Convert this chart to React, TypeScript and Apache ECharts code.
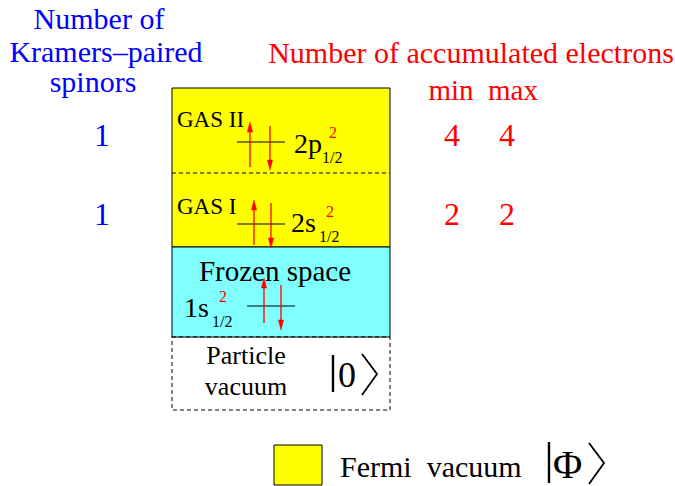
import React, { useEffect, useRef } from "react";
import * as echarts from "echarts";

// ---- data ----
const spaceLabels = ["GAS II", "GAS I", "Frozen space"];
const orbitalNames = ["2p", "2s", "1s"];
const orbitalOccupancy = ["2", "2", "2"];
const orbitalJ = ["1/2", "1/2", "1/2"];
const kramersPaired = [1, 1];
const minElectrons = [4, 2];
const maxElectrons = [4, 2];
const leftTitle = ["Number of", "Kramers\u2013paired", "spinors"];
const rightTitle = "Number of accumulated electrons";
const rightSubTitle = ["min", "max"];
const vacuumLabel = ["Particle", "vacuum"];
const vacuumKet = "0";
const legendLabel = "Fermi  vacuum";
const legendKet = "\u03A6";

const FONT = "'Liberation Serif', 'Times New Roman', serif";
const RED = "#ff0000";
const BLUE = "#0000ff";

// layout per row (positions only)
const rowLayout = [
  { labelX: 177, labelY: 119, labelSize: 23, labelAlign: "left", lineY: 142, lineX: [237, 285], up: [250, 167, 122], down: [270, 126, 170], orbX: 294, orbY: 143 },
  { labelX: 177, labelY: 206, labelSize: 23, labelAlign: "left", lineY: 224, lineX: [237, 285], up: [254, 245, 200], down: [271, 203, 248], orbX: 291, orbY: 222 },
  { labelX: 275, labelY: 271, labelSize: 29, labelAlign: "center", lineY: 306, lineX: [247, 295], up: [264, 323, 278], down: [281, 285, 330], orbX: 184, orbY: 307 },
];
const numberRowsY = [135, 214];

function text(x: number, y: number, s: string, size: number, color: string, align = "center", extra: any = {}, el: any = {}) {
  return {
    type: "text",
    x,
    y,
    ...el,
    style: { text: s, fontSize: size, fontFamily: FONT, fill: color, align, verticalAlign: "middle", ...extra },
  };
}

function arrow(x: number, y0: number, y1: number) {
  const dir = y1 > y0 ? 1 : -1;
  const headLen = 10;
  const headW = 2.6;
  return [
    { type: "line", shape: { x1: x, y1: y0, x2: x, y2: y1 - dir * headLen * 0.6 }, style: { stroke: RED, lineWidth: 1.3 } },
    {
      type: "polygon",
      shape: { points: [[x, y1], [x - headW, y1 - dir * headLen], [x + headW, y1 - dir * headLen]] },
      style: { fill: RED, stroke: RED, lineWidth: 0.5 },
    },
  ];
}

export default function App() {
  const ref = useRef<HTMLDivElement>(null);
  useEffect(() => {
    const chart = echarts.init(ref.current!, null, { renderer: "svg" });
    const g: any[] = [];

    // boxes
    g.push({ type: "rect", shape: { x: 172, y: 88, width: 218, height: 159 }, style: { fill: "#ffff00", stroke: "#000", lineWidth: 1 } });
    g.push({ type: "rect", shape: { x: 172, y: 247, width: 218, height: 90 }, style: { fill: "#80ffff", stroke: "#000", lineWidth: 1 } });
    g.push({ type: "rect", shape: { x: 172, y: 337, width: 218, height: 73 }, style: { fill: "none", stroke: "#000", lineWidth: 1, lineDash: [4, 3] } });
    g.push({ type: "line", shape: { x1: 172, y1: 173, x2: 390, y2: 173 }, style: { stroke: "#000", lineWidth: 1, lineDash: [4, 3] } });

    // rows
    spaceLabels.forEach((lab, i) => {
      const L = rowLayout[i];
      g.push(text(L.labelX, L.labelY, lab, L.labelSize, "#000", L.labelAlign));
      g.push({ type: "line", shape: { x1: L.lineX[0], y1: L.lineY, x2: L.lineX[1], y2: L.lineY }, style: { stroke: "#000", lineWidth: 1 } });
      g.push(...arrow(L.up[0], L.up[1], L.up[2]));
      g.push(...arrow(L.down[0], L.down[1], L.down[2]));
      g.push(text(L.orbX, L.orbY, orbitalNames[i], 28, "#000", "left"));
      g.push(text(L.orbX + 35, L.orbY - 11, orbitalOccupancy[i], 16, RED, "left"));
      g.push(text(L.orbX + 28, L.orbY + 14, orbitalJ[i], 16, "#000", "left"));
    });

    // particle vacuum
    g.push(text(246, 355, vacuumLabel[0], 26, "#000"));
    g.push(text(246, 386, vacuumLabel[1], 26, "#000"));
    g.push({ type: "line", shape: { x1: 333, y1: 355, x2: 333, y2: 392 }, style: { stroke: "#000", lineWidth: 2.4 } });
    g.push(text(338, 375, vacuumKet, 36, "#000", "left"));
    g.push({ type: "polyline", shape: { points: [[362, 354], [377, 374], [362, 395]] }, style: { stroke: "#000", lineWidth: 1.8, fill: "none" } });

    // left titles
    const leftX = [99, 106, 93];
    const leftY = [18, 51, 81];
    leftTitle.forEach((s, i) => g.push(text(leftX[i], leftY[i], s, 30, BLUE)));
    kramersPaired.forEach((v, i) => g.push(text(102, numberRowsY[i], String(v), 32, BLUE)));

    // right titles
    g.push(text(471, 52, rightTitle, 30, RED));
    const colX = [451, 513];
    rightSubTitle.forEach((s, i) => g.push(text(colX[i], 90, s, 29, RED)));
    const numX = [452, 507];
    minElectrons.forEach((v, i) => g.push(text(numX[0], numberRowsY[i], String(v), 32, RED)));
    maxElectrons.forEach((v, i) => g.push(text(numX[1], numberRowsY[i], String(v), 32, RED)));

    // legend
    g.push({ type: "rect", shape: { x: 274, y: 445, width: 48, height: 40 }, style: { fill: "#ffff00", stroke: "#000", lineWidth: 1 } });
    g.push(text(340, 466, legendLabel, 30, "#000", "left"));
    g.push({ type: "line", shape: { x1: 549, y1: 442, x2: 549, y2: 483 }, style: { stroke: "#000", lineWidth: 2.4 } });
    g.push(text(553, 464, legendKet, 40, "#000", "left"));
    g.push({ type: "polyline", shape: { points: [[589, 443], [604, 463], [589, 484]] }, style: { stroke: "#000", lineWidth: 1.8, fill: "none" } });

    chart.setOption({ animation: false, graphic: { elements: g } });
    return () => chart.dispose();
  }, []);
  return <div ref={ref} style={{ position: "fixed", left: 0, top: 0, width: 675, height: 486, background: "#fff" }} />;
}
